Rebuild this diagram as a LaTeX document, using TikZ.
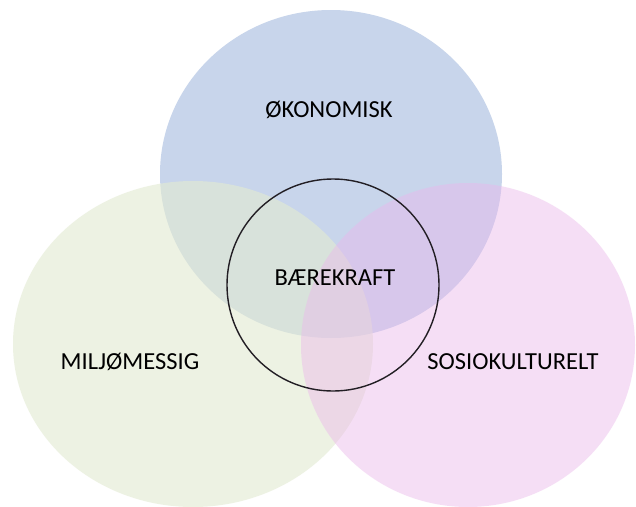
\documentclass[tikz,border=0pt]{standalone}
\usepackage{fontspec}
\setmainfont{Carlito}
\definecolor{ecoblue}{RGB}{200,213,235}
\definecolor{envgreen}{RGB}{227,235,210}
\definecolor{socpink}{RGB}{235,184,235}
\definecolor{ringcol}{RGB}{34,30,36}
\tikzset{
  lbl/.style={font=\fontsize{24.5}{28}\selectfont, text=black, inner sep=0pt},
  greenset/.style={fill=envgreen, fill opacity=0.62, draw=none},
  pinkset/.style={fill=socpink, fill opacity=0.45, draw=none},
  blueset/.style={fill=ecoblue, draw=none},
  ring/.style={draw=ringcol, line width=1.4pt}
}
\begin{document}
\begin{tikzpicture}[x=1pt,y=-1pt]
\fill[white] (0,0) rectangle (636,506);
\useasboundingbox (0,0) rectangle (636,506);
\path[blueset] (331,174) ellipse [x radius=171, y radius=164];
\path[greenset] (193,344) ellipse [x radius=180, y radius=163];
\path[pinkset] (468,345) ellipse [x radius=167, y radius=162];
\draw[ring] (333,285) circle [radius=106];
\node[lbl] (oko) at (329,110) {ØKONOMISK};
\node[lbl] (bae) at (335,278) {BÆREKRAFT};
\node[lbl] (mil) at (130,362) {MILJØMESSIG};
\node[lbl] (sos) at (513,362) {SOSIOKULTURELT};
\end{tikzpicture}
\end{document}
